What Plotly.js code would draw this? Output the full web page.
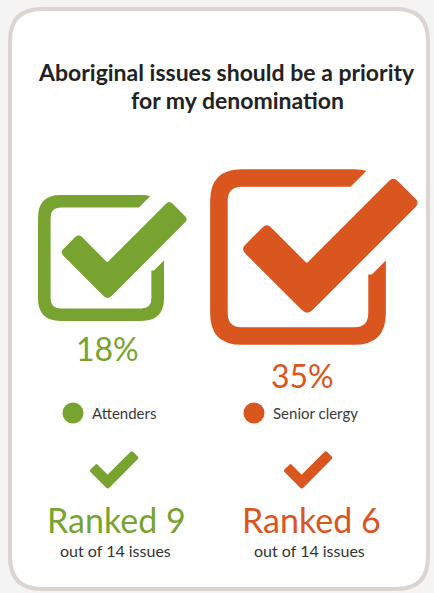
<!DOCTYPE html>
<html>
<head>
<meta charset="utf-8">
<script src="https://cdn.plot.ly/plotly-3.0.1.min.js"></script>
<style>html,body{margin:0;padding:0;background:#f4f4f4;}#chart{width:434px;height:593px;}</style>
</head>
<body>
<div id="chart"></div>
<script>
// ---- data ----
const groups = ['Attenders', 'Senior clergy'];
const shares = [18, 35];          // % agreeing
const ranks = [9, 6];             // rank among issues
const totalIssues = 14;
const titleLines = ['Aboriginal issues should be a priority', 'for my denomination'];

// ---- styling / layout config ----
const W = 434, H = 593;
const palette = ['#78a330', '#d9561f'];
const FONT = 'Lato, "Open Sans", sans-serif';
const iconCenters = [[101, 258], [298, 257]];
const sizePerRootPct = 29.7;      // icon side ∝ sqrt(share) so area ∝ share
const pctPos = [[107, 348], [302, 375]];
const legendPos = [[73, 413], [254, 413]];
const smallCheckCenters = [[114, 470], [308, 470]];
const rankPos = [[116, 519], [311, 519]];
const outOfPos = [[115, 550], [309, 550]];

// unit geometry of the check-box icon (box side = 1)
const CHECK = [[0.175,0.455],[0.3225,0.3075],[0.55,0.535],[1.0425,0.0425],[1.1925,0.1925],[0.5525,0.8325]];
const CHECK_R = [0.035,0.035,0.01,0.035,0.035,0.045];
const CUT = [[0.95,-0.05],[1.1,-0.05],[1.1,0.42],[0.92,0.60],[0.60,0.60],[0.60,0.30]];

function f(v){return v.toFixed(2);}
function roundedPoly(pts, radii){
  const n = pts.length; let d = '';
  for (let i=0;i<n;i++){
    const p0=pts[(i-1+n)%n], p1=pts[i], p2=pts[(i+1)%n];
    const r = radii ? radii[i] : 0;
    const l0=Math.hypot(p0[0]-p1[0],p0[1]-p1[1]), l2=Math.hypot(p2[0]-p1[0],p2[1]-p1[1]);
    const a=[p1[0]+(p0[0]-p1[0])*r/l0, p1[1]+(p0[1]-p1[1])*r/l0];
    const b=[p1[0]+(p2[0]-p1[0])*r/l2, p1[1]+(p2[1]-p1[1])*r/l2];
    d += (i===0?'M':'L')+f(a[0])+','+f(a[1])+' Q'+f(p1[0])+','+f(p1[1])+' '+f(b[0])+','+f(b[1])+' ';
  }
  return d+'Z';
}
function rrect(x0,y0,x1,y1,r){
  return 'M'+f(x0+r)+','+f(y0)+' L'+f(x1-r)+','+f(y0)+' Q'+f(x1)+','+f(y0)+' '+f(x1)+','+f(y0+r)+
    ' L'+f(x1)+','+f(y1-r)+' Q'+f(x1)+','+f(y1)+' '+f(x1-r)+','+f(y1)+
    ' L'+f(x0+r)+','+f(y1)+' Q'+f(x0)+','+f(y1)+' '+f(x0)+','+f(y1-r)+
    ' L'+f(x0)+','+f(y0+r)+' Q'+f(x0)+','+f(y0)+' '+f(x0+r)+','+f(y0)+' Z';
}
function tx(pts, ox, oy, s){return pts.map(p=>[ox+p[0]*s, oy+p[1]*s]);}

const shapes = [];
// card
shapes.push({type:'path', xref:'x', yref:'y', layer:'below', path: rrect(10,9,428,589,32),
  fillcolor:'#ffffff', line:{color:'#dcd4d0', width:4}});

groups.forEach((g,i)=>{
  const s = sizePerRootPct*Math.sqrt(shares[i]);
  const ox = iconCenters[i][0]-s/2, oy = iconCenters[i][1]-s/2;
  // ring
  shapes.push({type:'path', xref:'x', yref:'y', fillrule:'evenodd',
    path: rrect(ox,oy,ox+s,oy+s,0.18*s)+' '+rrect(ox+0.1*s,oy+0.1*s,ox+0.9*s,oy+0.9*s,0.08*s),
    fillcolor: palette[i], line:{width:0}});
  // white cut where check crosses the box
  shapes.push({type:'path', xref:'x', yref:'y', path: roundedPoly(tx(CUT,ox,oy,s)),
    fillcolor:'#ffffff', line:{width:0}});
  // check
  shapes.push({type:'path', xref:'x', yref:'y',
    path: roundedPoly(tx(CHECK,ox,oy,s), CHECK_R.map(r=>r*s)),
    fillcolor: palette[i], line:{width:0}});
  // small check
  const ss = 49;
  const sx = smallCheckCenters[i][0]-0.68*ss, sy = smallCheckCenters[i][1]-0.44*ss;
  shapes.push({type:'path', xref:'x', yref:'y',
    path: roundedPoly(tx(CHECK,sx,sy,ss), CHECK_R.map(r=>r*ss)),
    fillcolor: palette[i], line:{width:0}});
});

const annotations = [];
titleLines.forEach((t,k)=>{
  annotations.push({x: k===0?226:237, y: k===0?72:100, xref:'x', yref:'y', text:t, showarrow:false,
    xanchor:'center', yanchor:'middle', font:{family:FONT, size:23, color:'#222222', weight:700}});
});
groups.forEach((g,i)=>{
  annotations.push({x:pctPos[i][0], y:pctPos[i][1], xref:'x', yref:'y', text: shares[i]+'%', showarrow:false,
    xanchor:'center', yanchor:'middle', font:{family:FONT, size:32, color:palette[i], weight:400}});
  annotations.push({x:legendPos[i][0]+17, y:legendPos[i][1], xref:'x', yref:'y', text:g, showarrow:false,
    xanchor:'left', yanchor:'middle', font:{family:FONT, size:15, color:'#3a3a3a'}});
  annotations.push({x:rankPos[i][0], y:rankPos[i][1], xref:'x', yref:'y', text:'Ranked '+ranks[i], showarrow:false,
    xanchor:'center', yanchor:'middle', font:{family:FONT, size:34, color:palette[i], weight:400}});
  annotations.push({x:outOfPos[i][0], y:outOfPos[i][1], xref:'x', yref:'y', text:'out of '+totalIssues+' issues', showarrow:false,
    xanchor:'center', yanchor:'middle', font:{family:FONT, size:16, color:'#333333'}});
});

const traces = groups.map((g,i)=>({
  type:'scatter', mode:'markers', name:g, x:[legendPos[i][0]], y:[legendPos[i][1]],
  marker:{size:21, color:palette[i]}, hoverinfo:'skip', showlegend:false
}));

const layout = {
  width: W, height: H, margin:{l:0,r:0,t:0,b:0},
  paper_bgcolor:'#f4f4f4', plot_bgcolor:'#f4f4f4',
  xaxis:{range:[0,W], visible:false, fixedrange:true},
  yaxis:{range:[H,0], visible:false, fixedrange:true},
  shapes, annotations, showlegend:false
};
Plotly.newPlot('chart', traces, layout, {displayModeBar:false, staticPlot:true});
</script>
</body>
</html>
